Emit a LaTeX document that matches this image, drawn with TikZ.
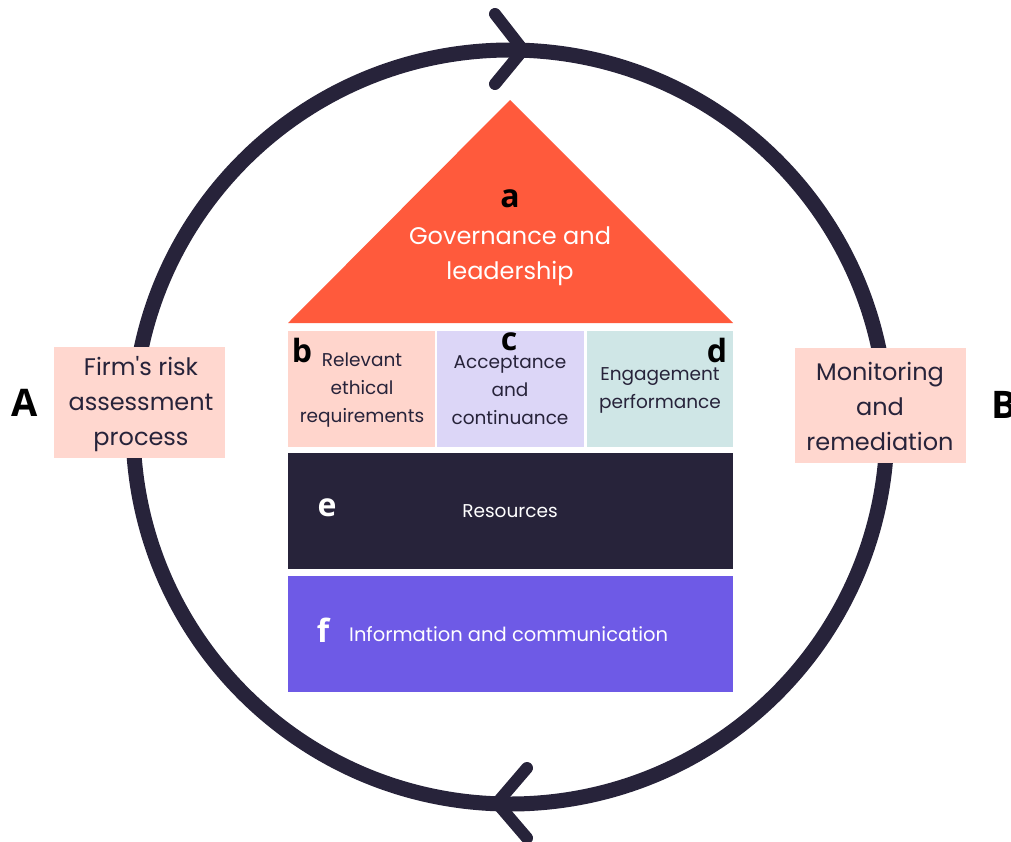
\documentclass[tikz,border=0pt]{standalone}
\usepackage{fontspec}
\setmainfont{Poppins}[Ligatures=TeXOff]
\newfontfamily\labfont{Open Sans}
\definecolor{ink}{HTML}{27233A}
\definecolor{tri}{HTML}{FF5A3C}
\definecolor{pinkbox}{HTML}{FFD5CC}
\definecolor{lavbox}{HTML}{DCD6F7}
\definecolor{tealbox}{HTML}{CFE6E6}
\definecolor{violetbox}{HTML}{6E5AE6}
\definecolor{sidebox}{HTML}{FFD7CF}
\begin{document}
\begin{tikzpicture}[x=1pt,y=-1pt,
  cell/.style={inner sep=0pt, anchor=north west},
  smalltext/.style={text=ink, align=center, font=\fontsize{18.5}{28}\selectfont},
  bigtext/.style={align=center, font=\fontsize{24}{35}\selectfont},
  sidetext/.style={text=ink, align=center, font=\fontsize{24}{35}\selectfont},
  letter/.style={font=\labfont\bfseries\fontsize{32}{34}\selectfont},
  bigletter/.style={font=\labfont\bfseries\fontsize{38}{40}\selectfont},
  ring/.style={draw=ink, line width=15pt},
  chevron/.style={draw=ink, line width=12pt, line cap=round, line join=round}]
\useasboundingbox (0,0) rectangle (1011,841);
% cycle ring
\draw[ring] (510,427) circle[radius=377];
\coordinate (t1) at (495,14);
\coordinate (t2) at (523,50);
\coordinate (t3) at (495,84);
\draw[chevron] (t1) -- (t2) -- (t3);
\coordinate (b1) at (527,768);
\coordinate (b2) at (497,803);
\coordinate (b3) at (527,838);
\draw[chevron] (b1) -- (b2) -- (b3);
% roof
\fill[tri] (510,100) -- (733,323) -- (288,323) -- cycle;
\node[letter] (la) at (510,199) {a};
\node[bigtext, text=white] (gov) at (510,256) {Governance and\\leadership};
% row of three
\node[cell, fill=pinkbox, minimum width=147pt, minimum height=116pt] (bx) at (288,331) {};
\node[cell, fill=lavbox, minimum width=147pt, minimum height=116pt] (cx) at (437,331) {};
\node[cell, fill=tealbox, minimum width=146pt, minimum height=116pt] (dx) at (587,331) {};
\node[smalltext] (bt) at (362,390) {Relevant\\ethical\\requirements};
\node[smalltext] (ct) at (510,390) {Acceptance\\and\\continuance};
\node[smalltext] (dt) at (660,390) {Engagement\\performance};
\node[letter] (lb) at (302,350) {b};
\node[letter] (lc) at (509,342) {c};
\node[letter] (ld) at (717,350) {d};
% resources
\node[cell, fill=ink, minimum width=445pt, minimum height=116pt] (ex) at (288,453) {};
\node[text=white, font=\fontsize{18.5}{20}\selectfont] (et) at (510,511) {Resources};
\node[letter, text=white] (le) at (327,508) {e};
% information
\node[cell, fill=violetbox, minimum width=445pt, minimum height=116pt] (fx) at (288,576) {};
\node[text=white, font=\fontsize{19.5}{20}\selectfont, anchor=west, inner sep=0pt] (ft) at (349,634) {Information and communication};
\node[letter, text=white] (lf) at (323,630) {f};
% side boxes
\node[cell, fill=sidebox, minimum width=171pt, minimum height=111pt] (ax) at (54,347) {};
\node[sidetext] (at) at (141,404) {Firm's risk\\assessment\\process};
\node[cell, fill=sidebox, minimum width=171pt, minimum height=115pt] (bbx) at (795,348) {};
\node[sidetext] (bbt) at (880,406) {Monitoring\\and\\remediation};
\node[bigletter] (lA) at (25,403) {A};
\node[bigletter] (lB) at (1004,405) {B};
\end{tikzpicture}
\end{document}
